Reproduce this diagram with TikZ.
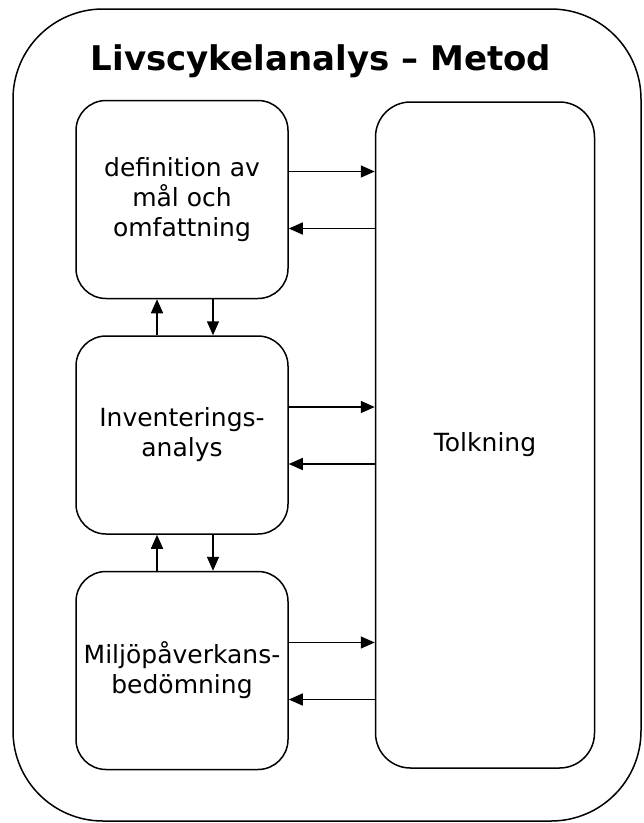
\documentclass[tikz,border=0pt]{standalone}
\usepackage{fontspec}
\setmainfont{DejaVu Sans}
\usetikzlibrary{arrows.meta,positioning,calc}

\begin{document}
\begin{tikzpicture}[x=1pt, y=-1pt, font=\fontsize{25}{30}\selectfont, box/.style={draw, line width=1.5pt, rounded corners=30pt, align=center, minimum width=212pt, minimum height=198pt, inner sep=0pt}, arr/.style={-{Triangle[length=14pt,width=12pt]}, line width=1.5pt}]
\useasboundingbox (0,0) rectangle (644,823);
\draw[line width=1.5pt, rounded corners=90pt] (13,9) rectangle (641,821);
\node[anchor=base, font=\fontsize{34}{40}\selectfont\bfseries] (title) at (321,70) {Livscykelanalys -- Metod};
\node[box] (defn) at (182,199.5) {definition av\\mål och\\omfattning};
\node[box, below=36pt of defn] (inv) {Inventerings-\\analys};
\node[box, below=36pt of inv] (mil) {Miljöpåverkans-\\bedömning};
\node[box, right=86pt of inv, minimum width=219pt, minimum height=666pt, rounded corners=35pt, text height=38pt, text depth=6pt] (tolk) {Tolkning};
% till och från tolkning
\foreach \n in {defn, inv, mil} {
  \draw[arr] ([yshift=28pt]\n.east) -- ([yshift=28pt]\n.east -| tolk.west);
  \draw[arr] ([yshift=-29pt]\n.east -| tolk.west) -- ([yshift=-29pt]\n.east);
}
% mellan stegen
\draw[arr] ([xshift=-25pt]inv.north) -- ([xshift=-25pt]defn.south);
\draw[arr] ([xshift=31pt]defn.south) -- ([xshift=31pt]inv.north);
\draw[arr] ([xshift=-25pt]mil.north) -- ([xshift=-25pt]inv.south);
\draw[arr] ([xshift=31pt]inv.south) -- ([xshift=31pt]mil.north);
\end{tikzpicture}
\end{document}
